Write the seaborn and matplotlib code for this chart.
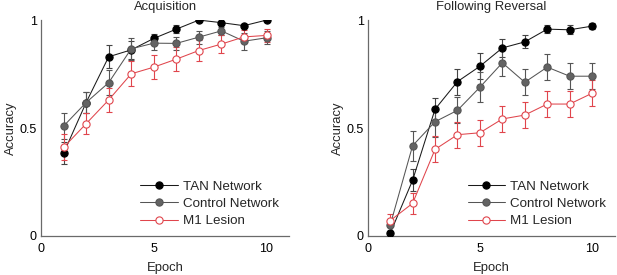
import numpy as np
import pandas as pd
import matplotlib
matplotlib.use("Agg")
import matplotlib.pyplot as plt
import seaborn as sns
from matplotlib.lines import Line2D

epochs = [1, 2, 3, 4, 5, 6, 7, 8, 9, 10]

acq_tan = [0.383, 0.618, 0.830, 0.862, 0.915, 0.958, 1.000, 0.988, 0.974, 1.000]
acq_tan_err = [0.05, 0.05, 0.054, 0.04, 0.02, 0.02, 0.0, 0.01, 0.01, 0.0]
acq_ctrl = [0.509, 0.618, 0.710, 0.867, 0.893, 0.892, 0.921, 0.950, 0.902, 0.918]
acq_ctrl_err = [0.059, 0.05, 0.058, 0.05, 0.03, 0.03, 0.03, 0.02, 0.04, 0.03]
acq_m1 = [0.410, 0.520, 0.630, 0.751, 0.782, 0.819, 0.859, 0.889, 0.922, 0.929]
acq_m1_err = [0.06, 0.05, 0.054, 0.058, 0.055, 0.055, 0.05, 0.04, 0.03, 0.03]

rev_tan = [0.012, 0.258, 0.587, 0.715, 0.786, 0.871, 0.899, 0.958, 0.955, 0.972]
rev_tan_err = [0.01, 0.05, 0.05, 0.06, 0.06, 0.04, 0.03, 0.02, 0.02, 0.015]
rev_ctrl = [0.05, 0.418, 0.529, 0.582, 0.689, 0.802, 0.712, 0.782, 0.740, 0.740]
rev_ctrl_err = [0.03, 0.07, 0.07, 0.06, 0.07, 0.06, 0.06, 0.06, 0.06, 0.06]
rev_m1 = [0.071, 0.151, 0.401, 0.469, 0.478, 0.542, 0.560, 0.611, 0.611, 0.661]
rev_m1_err = [0.03, 0.05, 0.06, 0.06, 0.06, 0.06, 0.06, 0.06, 0.06, 0.06]

titles = ["Acquisition", "Following Reversal"]
series_names = ["TAN Network", "Control Network", "M1 Lesion"]
x_ticks = [0, 5, 10]
y_ticks = [0, 0.5, 1]
y_ticklabels = ["0", "0.5", "1"]

sns.set_theme(style="white")
plt.rcParams['font.family'] = ['Liberation Sans', 'DejaVu Sans']

styles = {
    "TAN Network": dict(line="#1a1a1a", face="black", edge="black", err="#444444"),
    "Control Network": dict(line="#555555", face="#636363", edge="#555555", err="#555555"),
    "M1 Lesion": dict(line="#e0454c", face="white", edge="#e0454c", err="#e0454c"),
}

fig = plt.figure(figsize=(6.17, 2.75), dpi=100)
ax1 = fig.add_axes([0.0665, 0.142, 0.402, 0.785])
ax2 = fig.add_axes([0.596, 0.142, 0.40, 0.785])

panels = [
    (ax1, [(acq_tan, acq_tan_err), (acq_ctrl, acq_ctrl_err), (acq_m1, acq_m1_err)], 0.40),
    (ax2, [(rev_tan, rev_tan_err), (rev_ctrl, rev_ctrl_err), (rev_m1, rev_m1_err)], 0.405),
]

ms = 5.2
lw = 0.75
axis_color = "#6a6a6a"
for i, (ax, data, legx) in enumerate(panels):
    rows = []
    for name, (vals, errs) in zip(series_names, data):
        for e, v, er in zip(epochs, vals, errs):
            rows.append(dict(Epoch=e, Accuracy=v, err=er, Series=name))
    df = pd.DataFrame(rows)
    for name in series_names:
        sub = df[df.Series == name]
        st = styles[name]
        ax.errorbar(sub.Epoch, sub.Accuracy, yerr=sub.err, fmt="none",
                    ecolor=st["err"], elinewidth=0.8, capsize=2.0, capthick=0.8, zorder=2)
        sns.lineplot(data=sub, x="Epoch", y="Accuracy", ax=ax, color=st["line"],
                     linewidth=lw, marker="o", markersize=ms,
                     markerfacecolor=st["face"], markeredgecolor=st["edge"],
                     markeredgewidth=0.8, legend=False, zorder=3)
    ax.set_xlim(0, 11)
    ax.set_ylim(0, 1)
    ax.set_xticks(x_ticks)
    ax.set_yticks(y_ticks)
    ax.set_yticklabels(y_ticklabels)
    ax.set_title(titles[i], fontsize=9.4, pad=7)
    ax.set_xlabel("Epoch", fontsize=9.4, labelpad=5)
    ax.set_ylabel("Accuracy", fontsize=9.4, labelpad=2)
    for s in ["top", "right"]:
        ax.spines[s].set_visible(False)
    for s in ["left", "bottom"]:
        ax.spines[s].set_color(axis_color)
        ax.spines[s].set_linewidth(0.9)
        ax.spines[s].set_clip_on(False)
    ax.tick_params(axis="both", direction="in", length=3, width=0.8,
                   colors=axis_color, labelcolor="black", labelsize=9)
    ax.tick_params(axis="x", pad=5)
    ax.tick_params(axis="y", pad=3)
    handles = []
    for name in series_names:
        st = styles[name]
        handles.append(Line2D([0], [0], color=st["line"], linewidth=lw, marker="o",
                              markersize=ms, markerfacecolor=st["face"],
                              markeredgecolor=st["edge"], markeredgewidth=0.8))
    ax.legend(handles, series_names, loc="lower left", bbox_to_anchor=(legx, 0.04),
              frameon=False, fontsize=9.6, handlelength=2.8, handletextpad=0.4,
              labelspacing=0.37, borderaxespad=0, borderpad=0)

fig.savefig("out.png", dpi=100)
